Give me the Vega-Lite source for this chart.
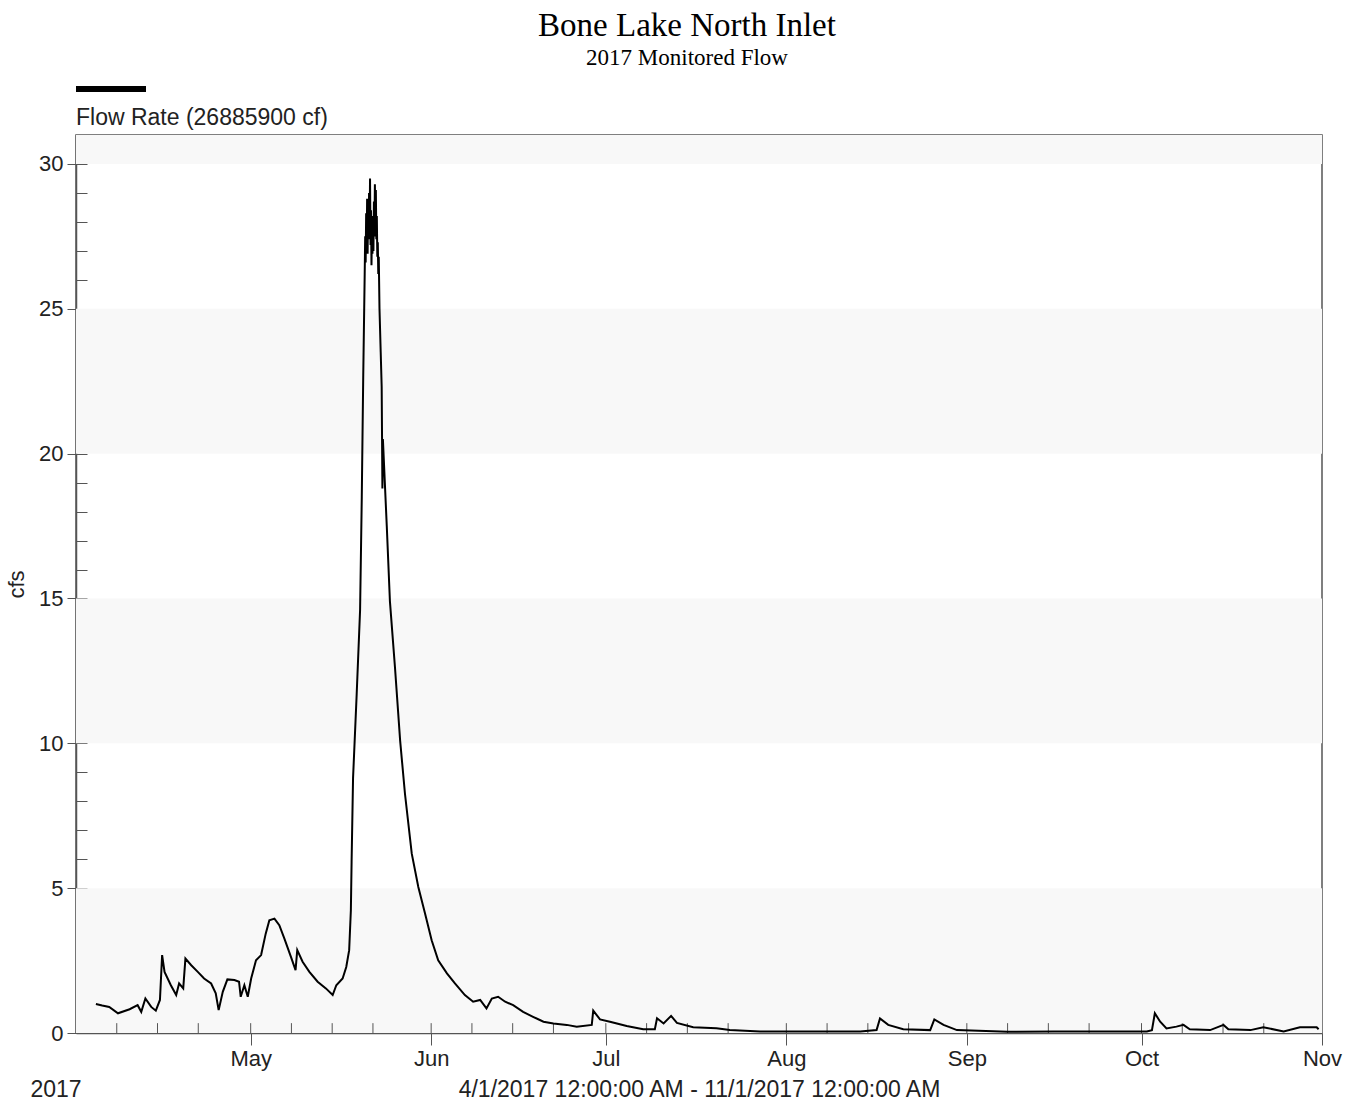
{
  "$schema": "https://vega.github.io/schema/vega-lite/v6.json",
  "width": 1246,
  "height": 898,
  "autosize": {"type": "none"},
  "padding": {"left": 76, "top": 135, "right": 34, "bottom": 70},
  "background": "white",
  "title": {
    "text": "Bone Lake North Inlet",
    "subtitle": "2017 Monitored Flow",
    "font": "Liberation Serif",
    "fontSize": 33,
    "fontWeight": "normal",
    "color": "#000000",
    "subtitleFont": "Liberation Serif",
    "subtitleFontSize": 23,
    "subtitleColor": "#000000",
    "subtitlePadding": 4,
    "anchor": "middle",
    "frame": "group",
    "offset": 15,
    "dx": -12
  },
  "datasets": {
    "bands": [
      {"lo": 0, "hi": 5},
      {"lo": 10, "hi": 15},
      {"lo": 20, "hi": 25},
      {"lo": 30, "hi": 31}
    ],
    "xticks": [
      {"d": "2017-04-08T00:00"}, {"d": "2017-04-15T00:00"}, {"d": "2017-04-22T00:00"},
      {"d": "2017-05-01T00:00"}, {"d": "2017-05-08T00:00"}, {"d": "2017-05-15T00:00"}, {"d": "2017-05-22T00:00"},
      {"d": "2017-06-01T00:00"}, {"d": "2017-06-08T00:00"}, {"d": "2017-06-15T00:00"}, {"d": "2017-06-22T00:00"},
      {"d": "2017-07-01T00:00"}, {"d": "2017-07-08T00:00"}, {"d": "2017-07-15T00:00"}, {"d": "2017-07-22T00:00"},
      {"d": "2017-08-01T00:00"}, {"d": "2017-08-08T00:00"}, {"d": "2017-08-15T00:00"}, {"d": "2017-08-22T00:00"},
      {"d": "2017-09-01T00:00"}, {"d": "2017-09-08T00:00"}, {"d": "2017-09-15T00:00"}, {"d": "2017-09-22T00:00"},
      {"d": "2017-10-01T00:00"}, {"d": "2017-10-08T00:00"}, {"d": "2017-10-15T00:00"}, {"d": "2017-10-22T00:00"}
    ],
    "flow": [
      {"t": "2017-04-04T10:00", "v": 1.0},
      {"t": "2017-04-05T12:00", "v": 0.95},
      {"t": "2017-04-06T17:00", "v": 0.9},
      {"t": "2017-04-08T05:00", "v": 0.68},
      {"t": "2017-04-10T05:00", "v": 0.82},
      {"t": "2017-04-11T14:00", "v": 0.96},
      {"t": "2017-04-12T05:00", "v": 0.73},
      {"t": "2017-04-12T22:00", "v": 1.19},
      {"t": "2017-04-13T22:00", "v": 0.9},
      {"t": "2017-04-14T17:00", "v": 0.77},
      {"t": "2017-04-15T10:00", "v": 1.14},
      {"t": "2017-04-15T19:00", "v": 2.69},
      {"t": "2017-04-16T05:00", "v": 2.11},
      {"t": "2017-04-17T07:00", "v": 1.65},
      {"t": "2017-04-18T05:00", "v": 1.31},
      {"t": "2017-04-18T17:00", "v": 1.71},
      {"t": "2017-04-19T10:00", "v": 1.54},
      {"t": "2017-04-19T19:00", "v": 2.57},
      {"t": "2017-04-20T19:00", "v": 2.34},
      {"t": "2017-04-21T22:00", "v": 2.11},
      {"t": "2017-04-23T00:00", "v": 1.88},
      {"t": "2017-04-24T05:00", "v": 1.71},
      {"t": "2017-04-25T00:00", "v": 1.37},
      {"t": "2017-04-25T12:00", "v": 0.79},
      {"t": "2017-04-26T05:00", "v": 1.42},
      {"t": "2017-04-27T00:00", "v": 1.85},
      {"t": "2017-04-28T05:00", "v": 1.83},
      {"t": "2017-04-29T00:00", "v": 1.77},
      {"t": "2017-04-29T07:00", "v": 1.25},
      {"t": "2017-04-29T22:00", "v": 1.65},
      {"t": "2017-04-30T12:00", "v": 1.25},
      {"t": "2017-05-01T02:00", "v": 1.88},
      {"t": "2017-05-01T22:00", "v": 2.51},
      {"t": "2017-05-02T19:00", "v": 2.69},
      {"t": "2017-05-03T14:00", "v": 3.43},
      {"t": "2017-05-04T05:00", "v": 3.89},
      {"t": "2017-05-05T02:00", "v": 3.95},
      {"t": "2017-05-05T22:00", "v": 3.72},
      {"t": "2017-05-06T19:00", "v": 3.26},
      {"t": "2017-05-07T22:00", "v": 2.63},
      {"t": "2017-05-08T17:00", "v": 2.17},
      {"t": "2017-05-09T00:00", "v": 2.86},
      {"t": "2017-05-09T22:00", "v": 2.46},
      {"t": "2017-05-11T02:00", "v": 2.11},
      {"t": "2017-05-12T12:00", "v": 1.77},
      {"t": "2017-05-13T22:00", "v": 1.54},
      {"t": "2017-05-15T02:00", "v": 1.31},
      {"t": "2017-05-15T17:00", "v": 1.65},
      {"t": "2017-05-16T19:00", "v": 1.88},
      {"t": "2017-05-17T10:00", "v": 2.28},
      {"t": "2017-05-17T22:00", "v": 2.86},
      {"t": "2017-05-18T05:00", "v": 4.24},
      {"t": "2017-05-18T08:00", "v": 5.9},
      {"t": "2017-05-18T14:00", "v": 8.8},
      {"t": "2017-05-19T05:00", "v": 11.7},
      {"t": "2017-05-19T19:00", "v": 14.6},
      {"t": "2017-05-20T02:00", "v": 18.5},
      {"t": "2017-05-20T08:00", "v": 22.7},
      {"t": "2017-05-20T14:00", "v": 26.2},
      {"t": "2017-05-20T16:00", "v": 27.5},
      {"t": "2017-05-20T18:00", "v": 26.6},
      {"t": "2017-05-20T20:00", "v": 28.3},
      {"t": "2017-05-20T22:00", "v": 27.0},
      {"t": "2017-05-21T00:00", "v": 28.8},
      {"t": "2017-05-21T02:00", "v": 26.9},
      {"t": "2017-05-21T04:00", "v": 28.5},
      {"t": "2017-05-21T06:00", "v": 27.4},
      {"t": "2017-05-21T08:00", "v": 29.0},
      {"t": "2017-05-21T10:00", "v": 27.6},
      {"t": "2017-05-21T12:00", "v": 29.5},
      {"t": "2017-05-21T14:00", "v": 27.2},
      {"t": "2017-05-21T16:00", "v": 28.4},
      {"t": "2017-05-21T18:00", "v": 26.5},
      {"t": "2017-05-21T20:00", "v": 27.8},
      {"t": "2017-05-21T22:00", "v": 26.9},
      {"t": "2017-05-22T00:00", "v": 28.2},
      {"t": "2017-05-22T02:00", "v": 27.0},
      {"t": "2017-05-22T04:00", "v": 28.7},
      {"t": "2017-05-22T06:00", "v": 27.5},
      {"t": "2017-05-22T08:00", "v": 29.3},
      {"t": "2017-05-22T10:00", "v": 28.0},
      {"t": "2017-05-22T12:00", "v": 29.1},
      {"t": "2017-05-22T14:00", "v": 27.4},
      {"t": "2017-05-22T16:00", "v": 28.2},
      {"t": "2017-05-22T18:00", "v": 26.8},
      {"t": "2017-05-22T20:00", "v": 27.3},
      {"t": "2017-05-22T22:00", "v": 26.2},
      {"t": "2017-05-23T00:00", "v": 26.8},
      {"t": "2017-05-23T03:00", "v": 25.0},
      {"t": "2017-05-23T08:00", "v": 23.5},
      {"t": "2017-05-23T12:00", "v": 22.3},
      {"t": "2017-05-23T15:00", "v": 18.8},
      {"t": "2017-05-23T17:00", "v": 20.5},
      {"t": "2017-05-24T09:00", "v": 17.5},
      {"t": "2017-05-24T22:00", "v": 14.9},
      {"t": "2017-05-25T19:00", "v": 12.6},
      {"t": "2017-05-26T16:00", "v": 10.1},
      {"t": "2017-05-27T12:00", "v": 8.26},
      {"t": "2017-05-28T16:00", "v": 6.19},
      {"t": "2017-05-29T19:00", "v": 5.04},
      {"t": "2017-05-30T23:00", "v": 4.12},
      {"t": "2017-06-01T02:00", "v": 3.2},
      {"t": "2017-06-02T05:00", "v": 2.51},
      {"t": "2017-06-03T17:00", "v": 2.06},
      {"t": "2017-06-05T02:00", "v": 1.71},
      {"t": "2017-06-06T19:00", "v": 1.31},
      {"t": "2017-06-08T05:00", "v": 1.08},
      {"t": "2017-06-09T10:00", "v": 1.14},
      {"t": "2017-06-10T12:00", "v": 0.85},
      {"t": "2017-06-11T10:00", "v": 1.19},
      {"t": "2017-06-12T12:00", "v": 1.25},
      {"t": "2017-06-13T17:00", "v": 1.08},
      {"t": "2017-06-15T02:00", "v": 0.96},
      {"t": "2017-06-16T19:00", "v": 0.73},
      {"t": "2017-06-18T12:00", "v": 0.56},
      {"t": "2017-06-20T07:00", "v": 0.39},
      {"t": "2017-06-22T00:00", "v": 0.33},
      {"t": "2017-06-24T07:00", "v": 0.28},
      {"t": "2017-06-26T00:00", "v": 0.22},
      {"t": "2017-06-28T14:00", "v": 0.28},
      {"t": "2017-06-28T20:00", "v": 0.77},
      {"t": "2017-06-30T00:00", "v": 0.47},
      {"t": "2017-07-01T17:00", "v": 0.39},
      {"t": "2017-07-04T14:00", "v": 0.24},
      {"t": "2017-07-07T10:00", "v": 0.13},
      {"t": "2017-07-09T10:00", "v": 0.13},
      {"t": "2017-07-09T19:00", "v": 0.51},
      {"t": "2017-07-10T22:00", "v": 0.33},
      {"t": "2017-07-12T05:00", "v": 0.59},
      {"t": "2017-07-13T05:00", "v": 0.35},
      {"t": "2017-07-16T00:00", "v": 0.2},
      {"t": "2017-07-20T00:00", "v": 0.16},
      {"t": "2017-07-22T07:00", "v": 0.1},
      {"t": "2017-07-27T12:00", "v": 0.05},
      {"t": "2017-08-02T05:00", "v": 0.05},
      {"t": "2017-08-07T22:00", "v": 0.05},
      {"t": "2017-08-13T17:00", "v": 0.05},
      {"t": "2017-08-16T12:00", "v": 0.1},
      {"t": "2017-08-17T02:00", "v": 0.5},
      {"t": "2017-08-18T12:00", "v": 0.28},
      {"t": "2017-08-21T02:00", "v": 0.13},
      {"t": "2017-08-25T17:00", "v": 0.1},
      {"t": "2017-08-26T10:00", "v": 0.47},
      {"t": "2017-08-28T00:00", "v": 0.28},
      {"t": "2017-08-30T07:00", "v": 0.1},
      {"t": "2017-09-08T00:00", "v": 0.04},
      {"t": "2017-09-16T00:00", "v": 0.05},
      {"t": "2017-09-24T22:00", "v": 0.05},
      {"t": "2017-10-01T22:00", "v": 0.05},
      {"t": "2017-10-02T19:00", "v": 0.1},
      {"t": "2017-10-03T07:00", "v": 0.68},
      {"t": "2017-10-04T05:00", "v": 0.39},
      {"t": "2017-10-05T07:00", "v": 0.16},
      {"t": "2017-10-07T00:00", "v": 0.22},
      {"t": "2017-10-08T05:00", "v": 0.28},
      {"t": "2017-10-09T07:00", "v": 0.13},
      {"t": "2017-10-12T19:00", "v": 0.1},
      {"t": "2017-10-15T02:00", "v": 0.28},
      {"t": "2017-10-15T22:00", "v": 0.13},
      {"t": "2017-10-19T17:00", "v": 0.1},
      {"t": "2017-10-21T22:00", "v": 0.2},
      {"t": "2017-10-25T10:00", "v": 0.05},
      {"t": "2017-10-28T05:00", "v": 0.2},
      {"t": "2017-10-31T02:00", "v": 0.2},
      {"t": "2017-10-31T10:00", "v": 0.13}
    ]
  },
  "config": {
    "view": {"stroke": "#555555", "strokeWidth": 1.5},
    "axis": {
      "labelFont": "Liberation Sans",
      "titleFont": "Liberation Sans",
      "labelColor": "#222222",
      "titleColor": "#222222",
      "domainColor": "#555555",
      "domainWidth": 1.5,
      "tickColor": "#555555",
      "grid": false,
      "zindex": 1,
      "titleFontWeight": "normal"
    }
  },
  "layer": [
    {
      "data": {"name": "bands"},
      "mark": {"type": "rect", "color": "#f8f8f8"},
      "encoding": {
        "y": {"field": "lo", "type": "quantitative", "scale": {"domain": [0, 31], "nice": false}, "axis": null},
        "y2": {"field": "hi"}
      }
    },
    {
      "data": {"name": "xticks"},
      "mark": {"type": "rule", "color": "#555555", "strokeWidth": 1},
      "encoding": {
        "x": {
          "field": "d",
          "type": "temporal",
          "axis": {
            "orient": "bottom",
            "ticks": false,
            "labels": false,
            "domain": false,
            "title": "2017",
            "titleFontSize": 23,
            "titleAnchor": "start",
            "titleAlign": "left",
            "titleX": -46,
            "titleY": 63,
            "titleBaseline": "alphabetic"
          }
        },
        "y": {
          "datum": 0,
          "type": "quantitative",
          "axis": {
            "orient": "left",
            "values": [0, 1, 2, 3, 4, 5, 6, 7, 8, 9, 10, 11, 12, 13, 14, 15, 16, 17, 18, 19, 20, 21, 22, 23, 24, 25, 26, 27, 28, 29, 30],
            "tickSize": -11,
            "labels": false,
            "domain": false,
            "title": null
          }
        },
        "y2": {"datum": 0.34}
      }
    },
    {
      "data": {"name": "flow"},
      "mark": {"type": "line", "strokeWidth": 2, "interpolate": "linear"},
      "encoding": {
        "x": {
          "field": "t",
          "type": "temporal",
          "scale": {"domain": [{"year": 2017, "month": 4, "date": 1}, {"year": 2017, "month": 11, "date": 1}], "nice": false},
          "axis": {
            "orient": "bottom",
            "values": [
              {"year": 2017, "month": 5, "date": 1},
              {"year": 2017, "month": 6, "date": 1},
              {"year": 2017, "month": 7, "date": 1},
              {"year": 2017, "month": 8, "date": 1},
              {"year": 2017, "month": 9, "date": 1},
              {"year": 2017, "month": 10, "date": 1},
              {"year": 2017, "month": 11, "date": 1}
            ],
            "format": "%b",
            "labelFontSize": 22,
            "labelFlush": false,
            "labelOverlap": false,
            "tickSize": 12,
            "labelPadding": 3,
            "title": "4/1/2017 12:00:00 AM - 11/1/2017 12:00:00 AM",
            "titleFontSize": 23,
            "titleY": 63,
            "titleBaseline": "alphabetic"
          }
        },
        "y": {
          "field": "v",
          "type": "quantitative",
          "scale": {"domain": [0, 31], "nice": false},
          "axis": {
            "orient": "left",
            "values": [0, 5, 10, 15, 20, 25, 30],
            "tickSize": 9,
            "labelFontSize": 22,
            "labelPadding": 4,
            "title": "cfs",
            "titleFontSize": 22,
            "titlePadding": 10
          }
        },
        "color": {
          "datum": "Flow Rate",
          "scale": {"range": ["#000000"]},
          "legend": {
            "orient": "none",
            "legendX": 0,
            "legendY": -50,
            "title": "Flow Rate (26885900 cf)",
            "titleOrient": "bottom",
            "titleFont": "Liberation Sans",
            "titleFontSize": 23,
            "titleFontWeight": "normal",
            "titleColor": "#222222",
            "titleLimit": 500,
            "titlePadding": 13,
            "labelExpr": "''",
            "symbolSize": 4900,
            "symbolStrokeWidth": 6,
            "symbolStrokeColor": "#000000",
            "symbolType": "stroke",
            "symbolOffset": -3,
            "clipHeight": 8,
            "padding": 0,
            "labelOffset": 0
          }
        }
      }
    }
  ],
  "resolve": {"axis": {"x": "independent", "y": "independent"}}
}
